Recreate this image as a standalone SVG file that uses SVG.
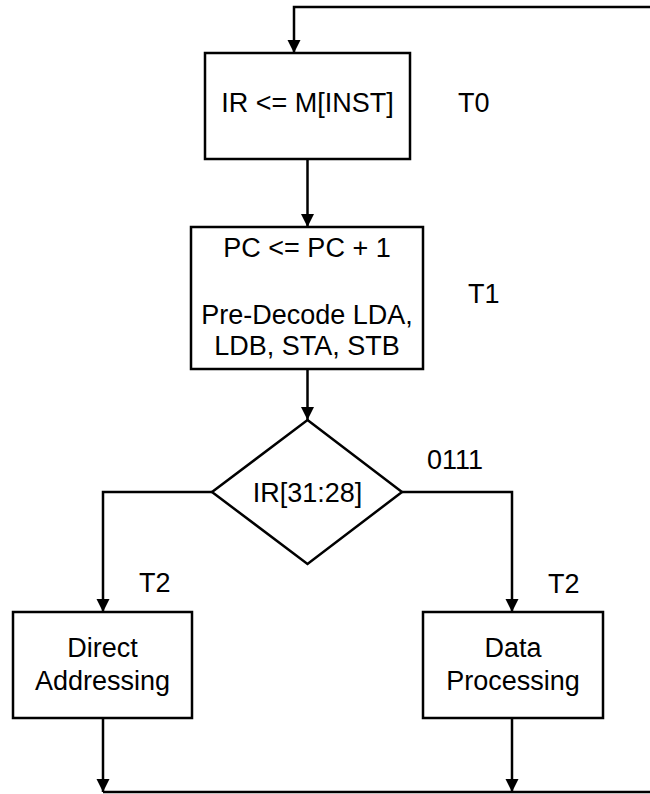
<svg xmlns="http://www.w3.org/2000/svg" width="650" height="794" viewBox="0 0 650 794">
<style>
.box{fill:#fff;stroke:#000;stroke-width:2.5}
.ln{fill:none;stroke:#000;stroke-width:2.5}
text{font-family:"Liberation Sans",Arial,sans-serif;font-size:27px;fill:#000}
.c{text-anchor:middle}
</style>
<defs>
<marker id="ah" markerUnits="userSpaceOnUse" markerWidth="14" markerHeight="14" refX="13" refY="6.5" orient="auto">
<path d="M0,0 L13,6.5 L0,13 z" fill="#000"/>
</marker>
</defs>
<rect width="650" height="794" fill="#fff"/>
<g id="connectors">
<path class="ln" d="M650,7 H294 V53" marker-end="url(#ah)"/>
<path class="ln" d="M307.5,159 V227" marker-end="url(#ah)"/>
<path class="ln" d="M307.5,369 V420" marker-end="url(#ah)"/>
<path class="ln" d="M212,492 H103 V612" marker-end="url(#ah)"/>
<path class="ln" d="M402,492 H512 V612" marker-end="url(#ah)"/>
<path class="ln" d="M103,718 V792" marker-end="url(#ah)"/>
<path class="ln" d="M512,718 V792" marker-end="url(#ah)"/>
<path class="ln" d="M103,792 H650"/>
</g>
<g id="fetch">
<rect class="box" x="205" y="53" width="205" height="106"/>
<text class="c" x="307.5" y="112">IR &lt;= M[INST]</text>
</g>
<g id="label-t0"><text x="458" y="112">T0</text></g>
<g id="decode">
<rect class="box" x="191" y="227" width="232" height="142"/>
<text class="c" x="307" y="257">PC &lt;= PC + 1</text>
<text class="c" x="307" y="324">Pre-Decode LDA,</text>
<text class="c" x="307" y="355">LDB, STA, STB</text>
</g>
<g id="label-t1"><text x="468" y="303">T1</text></g>
<g id="decision">
<polygon class="box" points="307.5,420 402,492 307.5,564 212,492"/>
<text class="c" x="307.5" y="502">IR[31:28]</text>
</g>
<g id="label-0111"><text x="427" y="469">0111</text></g>
<g id="label-t2-left"><text x="139" y="592">T2</text></g>
<g id="label-t2-right"><text x="548" y="593">T2</text></g>
<g id="direct">
<rect class="box" x="13" y="612" width="179" height="106"/>
<text class="c" x="102.5" y="657">Direct</text>
<text class="c" x="102.5" y="690">Addressing</text>
</g>
<g id="dataproc">
<rect class="box" x="423" y="612" width="180" height="106"/>
<text class="c" x="513" y="657">Data</text>
<text class="c" x="513" y="690">Processing</text>
</g>
</svg>
